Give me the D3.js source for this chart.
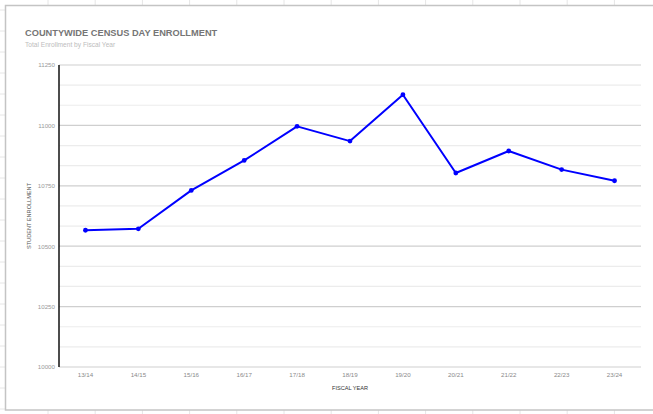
<!DOCTYPE html>
<html><head><meta charset="utf-8">
<script src="https://cdn.jsdelivr.net/npm/d3@7"></script>
<style>body{margin:0;background:#fff;}svg{display:block;font-family:Arial,"Liberation Sans",sans-serif;}</style>
</head><body>
<svg id="c" width="653" height="414"></svg>
<script>
const categories = ["13/14","14/15","15/16","16/17","17/18","18/19","19/20","20/21","21/22","22/23","23/24"];
const enrollment = [10566,10572,10731,10855,10996,10935,11127,10803,10894,10817,10771];
const majorTicks = [10000,10250,10500,10750,11000,11250];
const title = "COUNTYWIDE CENSUS DAY ENROLLMENT";
const subtitle = "Total Enrollment by Fiscal Year";
const xTitle = "FISCAL YEAR";
const yTitle = "STUDENT ENROLLMENT";

const svg = d3.select("#c");
const W = 653, H = 414;
// spreadsheet grid behind
const gx = d3.range(48, W, 47.2), gy = d3.range(10, H, 21);
svg.append("g").selectAll("line").data(gx).join("line")
  .attr("x1", d => d).attr("x2", d => d).attr("y1", 0).attr("y2", H)
  .attr("stroke", "#e6e6e6").attr("stroke-width", 1);
svg.append("g").selectAll("line").data(gy).join("line")
  .attr("x1", 0).attr("x2", W).attr("y1", d => d).attr("y2", d => d)
  .attr("stroke", "#e6e6e6").attr("stroke-width", 1);
// chart frame
svg.append("rect").attr("x", 5.5).attr("y", 5.5).attr("width", 660).attr("height", 404.5)
  .attr("fill", "#fff").attr("stroke", "#c4c4c4").attr("stroke-width", 1.5);

const m = {l: 59, r: 641, t: 65, b: 367};
const x = d3.scaleBand().domain(categories).range([m.l, m.r]);
const y = d3.scaleLinear().domain([10000, 11250]).range([m.b, m.t]);

// gridlines: minor (3 per major) and major
const minor = d3.range(10000, 11250.1, 250/3).filter(v => !majorTicks.some(t => Math.abs(t - v) < 1));
svg.append("g").selectAll("line").data(minor).join("line")
  .attr("x1", m.l).attr("x2", m.r).attr("y1", d => y(d)).attr("y2", d => y(d))
  .attr("stroke", "#ececec").attr("stroke-width", 1.2);
svg.append("g").selectAll("line").data(majorTicks).join("line")
  .attr("x1", m.l).attr("x2", m.r).attr("y1", d => y(d)).attr("y2", d => y(d))
  .attr("stroke", "#cfcfcf").attr("stroke-width", 1.2);

// y axis
const ya = d3.axisLeft(y).tickValues(majorTicks).tickSize(0).tickPadding(4).tickFormat(d3.format("d"));
const yg = svg.append("g").attr("transform", `translate(${m.l},0)`).call(ya);
yg.select(".domain").remove();
yg.selectAll("text").attr("fill", "#9a9a9a").attr("font-size", 6.2).attr("font-family", "Arial,'Liberation Sans',sans-serif");
svg.append("line").attr("x1", m.l).attr("x2", m.l).attr("y1", m.t).attr("y2", m.b)
  .attr("stroke", "#111").attr("stroke-width", 1.5);

// x axis
const xa = d3.axisBottom(x).tickSize(0).tickPadding(6);
const xg = svg.append("g").attr("transform", `translate(0,${m.b})`).call(xa);
xg.select(".domain").remove();
xg.selectAll("text").attr("fill", "#8a8a8a").attr("font-size", 6.2).attr("font-family", "Arial,'Liberation Sans',sans-serif");

// line
const line = d3.line().x((d, i) => x(categories[i]) + x.bandwidth()/2).y(d => y(d));
svg.append("path").datum(enrollment).attr("d", line)
  .attr("fill", "none").attr("stroke", "#0000ff").attr("stroke-width", 2).attr("stroke-linejoin", "round");
svg.append("g").selectAll("circle").data(enrollment).join("circle")
  .attr("cx", (d, i) => x(categories[i]) + x.bandwidth()/2).attr("cy", d => y(d)).attr("r", 2.4)
  .attr("fill", "#0000ff");

// titles
svg.append("text").attr("x", 25).attr("y", 36).text(title)
  .attr("font-size", 9.25).attr("font-weight", "bold").attr("fill", "#757575");
svg.append("text").attr("x", 25).attr("y", 47).text(subtitle)
  .attr("font-size", 6.6).attr("fill", "#bdbdbd");
svg.append("text").attr("x", 350).attr("y", 390).attr("text-anchor", "middle").text(xTitle)
  .attr("font-size", 5.6).attr("fill", "#333");
svg.append("text").attr("transform", "translate(31,216) rotate(-90)").attr("text-anchor", "middle").text(yTitle)
  .attr("font-size", 5.6).attr("fill", "#555");
</script>
</body></html>
